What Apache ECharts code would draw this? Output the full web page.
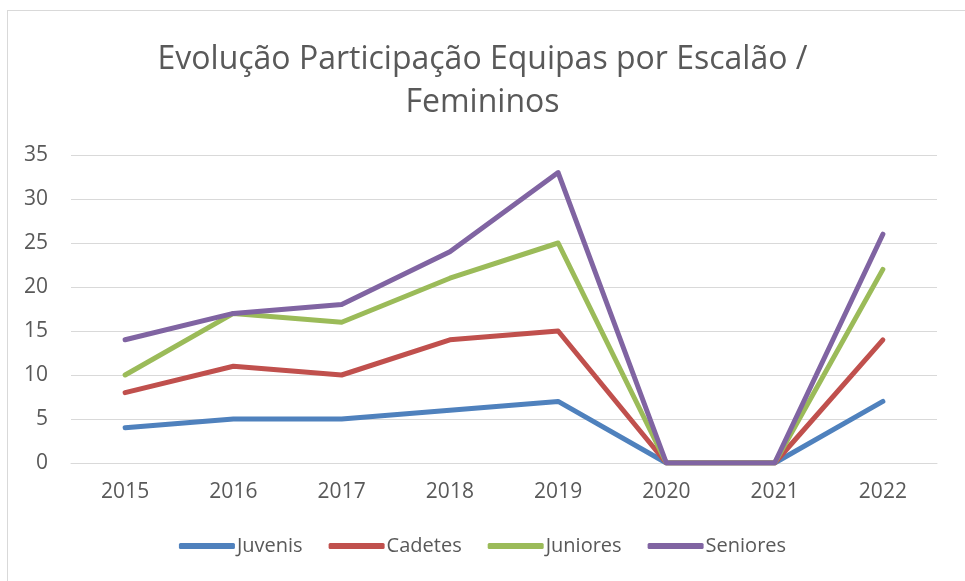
<!DOCTYPE html>
<html>
<head>
<meta charset="utf-8">
<script src="https://cdn.jsdelivr.net/npm/echarts@6/dist/echarts.min.js"></script>
<style>
  html, body { margin: 0; padding: 0; background: #fff; }
  #frame { position: absolute; left: 7px; top: 10px; width: 970px; height: 590px; border: 1px solid #d9d9d9; box-sizing: border-box; }
  #chart { position: absolute; left: 0; top: 0; width: 965px; height: 581px; }
</style>
</head>
<body>
<div id="frame"></div>
<div id="chart"></div>
<script>
const years = ["2015", "2016", "2017", "2018", "2019", "2020", "2021", "2022"];
const juvenis = [4, 5, 5, 6, 7, 0, 0, 7];
const cadetes = [8, 11, 10, 14, 15, 0, 0, 14];
const juniores = [10, 17, 16, 21, 25, 0, 0, 22];
const seniores = [14, 17, 18, 24, 33, 0, 0, 26];

const font = "'Open Sans', 'Noto Sans', sans-serif";
const chart = echarts.init(document.getElementById("chart"));

function line(name, data, color) {
  return {
    name, type: "line", data,
    symbol: "none",
    lineStyle: { width: 5, color, cap: "round", join: "round" },
    itemStyle: { color },
  };
}

chart.setOption({
  animation: false,
  title: {
    text: "Evolução Participação Equipas por Escalão /\nFemininos",
    left: "center", top: 33,
    textStyle: { fontFamily: font, fontSize: 32, fontWeight: "normal", color: "#595959", lineHeight: 43 },
  },
  legend: {
    bottom: 20, left: "center",
    itemWidth: 56, itemHeight: 6, itemGap: 26,
    icon: "roundRect",
    textStyle: { fontFamily: font, fontSize: 20, color: "#595959", padding: [0, 0, 0, -3] },
    data: ["Juvenis", "Cadetes", "Juniores", "Seniores"],
  },
  grid: { left: 71, right: 28, top: 155, bottom: 118 },
  xAxis: {
    type: "category", data: years, boundaryGap: true,
    axisLine: { lineStyle: { color: "#d9d9d9", width: 1 } },
    axisTick: { show: false },
    axisLabel: { fontFamily: font, fontSize: 21, color: "#595959", margin: 19 },
  },
  yAxis: {
    type: "value", min: 0, max: 35, interval: 5,
    axisLine: { show: false }, axisTick: { show: false },
    splitLine: { lineStyle: { color: "#d9d9d9", width: 1 } },
    axisLabel: { fontFamily: font, fontSize: 21, color: "#595959", margin: 23 },
  },
  series: [
    line("Juvenis", juvenis, "#4F81BD"),
    line("Cadetes", cadetes, "#C0504D"),
    line("Juniores", juniores, "#9BBB59"),
    line("Seniores", seniores, "#8064A2"),
  ],
});
</script>
</body>
</html>
